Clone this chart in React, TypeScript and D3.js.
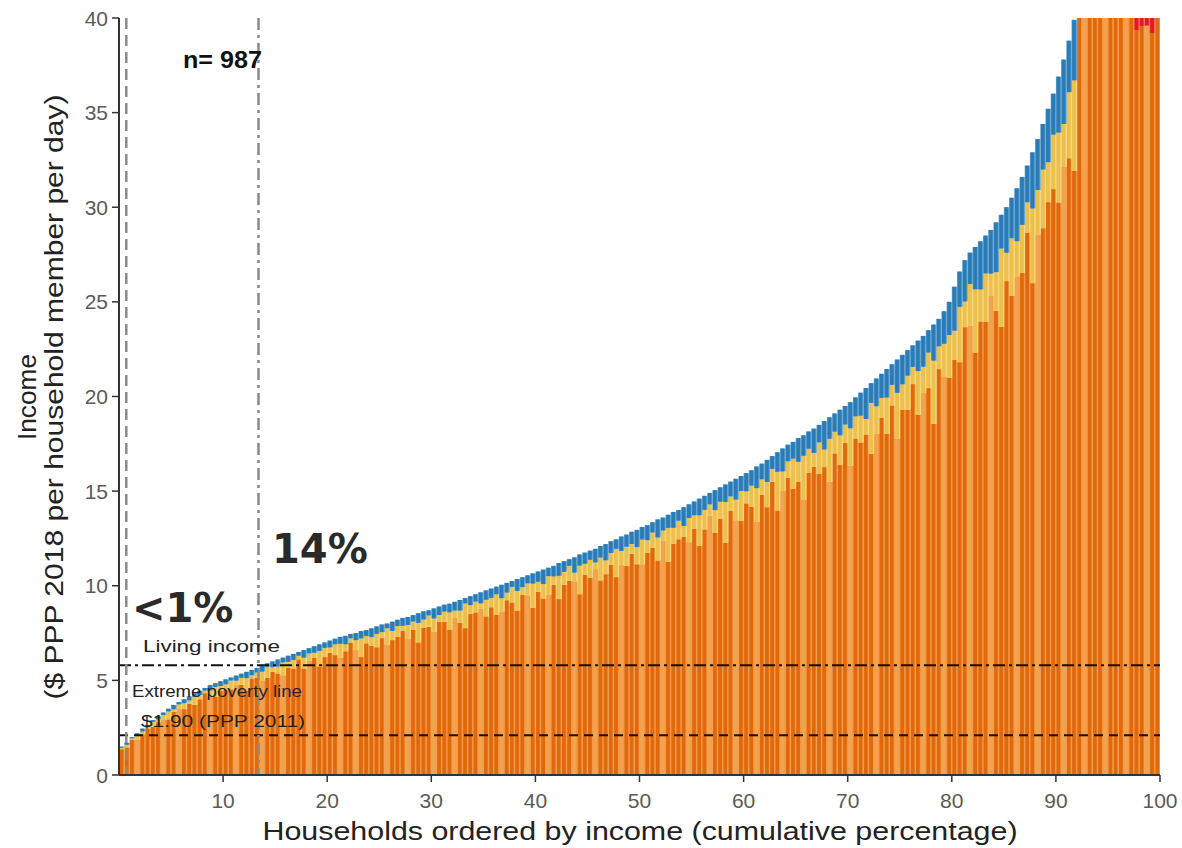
import React from 'react';
import * as d3 from 'd3';

// household income (PPP $ / member / day), households sorted, one bar per 0.5 %
const income = [
  1.5, 1.7, 2.0, 2.2, 2.45, 2.65, 2.9, 3.1, 3.3, 3.5, 3.7, 3.85, 4.0, 4.15, 4.3, 4.45, 4.6, 4.75, 4.85, 4.95,
  5.05, 5.15, 5.25, 5.35, 5.45, 5.55, 5.65, 5.75, 5.9, 6.0, 6.1, 6.2, 6.3, 6.4, 6.5, 6.6, 6.7, 6.8, 6.9, 7.0,
  7.1, 7.2, 7.3, 7.35, 7.45, 7.5, 7.6, 7.65, 7.75, 7.85, 7.95, 8.0, 8.1, 8.2, 8.3, 8.35, 8.45, 8.55, 8.65, 8.7,
  8.8, 8.9, 9.0, 9.05, 9.15, 9.25, 9.35, 9.45, 9.55, 9.65, 9.75, 9.85, 9.95, 10.05, 10.15, 10.25, 10.35, 10.45, 10.55, 10.65,
  10.75, 10.85, 10.95, 11.05, 11.2, 11.3, 11.4, 11.5, 11.65, 11.75, 11.85, 11.95, 12.1, 12.2, 12.35, 12.45, 12.6, 12.7, 12.85, 12.95,
  13.1, 13.2, 13.35, 13.5, 13.6, 13.75, 13.9, 14.0, 14.15, 14.3, 14.45, 14.6, 14.75, 14.9, 15.05, 15.2, 15.35, 15.5, 15.65, 15.8,
  15.95, 16.1, 16.3, 16.45, 16.65, 16.85, 17.05, 17.25, 17.45, 17.6, 17.8, 17.95, 18.15, 18.3, 18.5, 18.7, 18.9, 19.1, 19.3, 19.5,
  19.7, 19.95, 20.2, 20.45, 20.7, 20.95, 21.2, 21.45, 21.7, 21.95, 22.2, 22.45, 22.7, 22.95, 23.2, 23.5, 23.8, 24.1, 24.5, 25.0,
  25.8, 26.6, 27.2, 27.6, 27.9, 28.2, 28.5, 28.8, 29.2, 29.6, 30.0, 30.5, 31.0, 31.6, 32.2, 32.9, 33.6, 34.4, 35.2, 36.0,
  36.9, 37.8, 38.8, 39.9, 42, 44, 46, 48, 50, 53, 56, 60, 64, 69, 75, 82, 92, 110, 140, 200,
];

// share of income (%) from wages / business (blue, top of each bar)
const wagePct = [
  4, 6, 3, 5, 6, 4, 3, 5, 4, 4, 6, 3, 5, 5, 4, 5, 3, 6, 4, 5,
  5, 3, 5, 4, 6, 5, 4, 5, 3, 5, 6, 4, 5, 5, 3, 6, 4, 5, 5, 4,
  5, 4, 5, 6, 3, 5, 5, 4, 6, 5, 5, 3, 6, 4, 5, 5, 4, 6, 5, 3,
  6, 5, 4, 5, 5, 6, 3, 5, 4, 6, 5, 5, 4, 7, 5, 3, 6, 5, 4, 5,
  5, 7, 4, 5, 6, 5, 3, 7, 5, 5, 4, 6, 5, 7, 5, 4, 6, 5, 5, 7,
  5, 6, 4, 7, 5, 5, 6, 4, 7, 5, 5, 6, 5, 4, 7, 5, 6, 5, 7, 5,
  6, 5, 7, 5, 7, 4, 6, 7, 5, 5, 7, 6, 5, 7, 5, 8, 6, 5, 7, 5,
  7, 5, 6, 8, 5, 7, 6, 7, 5, 8, 7, 6, 5, 7, 7, 5, 8, 6, 7, 7,
  9, 7, 8, 6, 8, 9, 7, 8, 9, 6, 8, 7, 9, 8, 6, 9, 8, 7, 8, 6,
  8, 9, 7, 8, 1, 1, 2, 1, 1, 2, 1, 1, 2, 1, 1, 0, 0, 0, 0, 0,
];

// share of income (%) from livestock / other farm (yellow, under the blue)
const livestockPct = [
  5, 8, 4, 10, 6, 3, 9, 5, 7, 12, 4, 6, 8, 4, 10, 5, 3, 7, 11, 5,
  6, 9, 4, 7, 12, 3, 5, 8, 10, 4, 6, 11, 5, 7, 3, 9, 6, 4, 12, 7,
  4, 8, 10, 5, 3, 7, 13, 5, 6, 9, 4, 11, 6, 7, 3, 9, 5, 12, 5, 7,
  8, 4, 6, 10, 4, 7, 14, 5, 6, 3, 9, 5, 11, 7, 4, 8, 10, 4, 6, 12,
  5, 7, 9, 4, 11, 6, 7, 4, 13, 5, 8, 3, 10, 6, 5, 12, 6, 8, 4, 7,
  10, 5, 6, 9, 4, 13, 6, 7, 4, 9, 5, 11, 7, 4, 8, 6, 14, 5, 7, 10,
  4, 7, 11, 5, 8, 4, 12, 6, 5, 9, 6, 13, 7, 4, 9, 5, 12, 6, 8, 5,
  10, 6, 7, 4, 13, 7, 5, 9, 5, 11, 6, 8, 4, 10, 6, 8, 14, 5, 7, 9,
  6, 11, 5, 8, 12, 6, 9, 4, 7, 14, 5, 10, 6, 8, 5, 12, 7, 9, 6, 8,
  10, 6, 9, 12, 2, 3, 1, 2, 1, 3, 1, 2, 1, 2, 1, 0, 0, 0, 0, 0,
];

// remittance share of the five richest bars (red)
const remitShare = [0.52, 0.57, 0.64, 0.72, 0.8];

// bars whose main crop is the second crop (light orange)
const paleBars = [3, 8, 11, 17, 22, 27, 31, 36, 42, 45, 51, 55, 60, 64, 69, 73, 78, 82, 87, 91, 96, 100, 104, 109, 113, 118,
  122, 127, 131, 136, 140, 145, 149, 154, 158, 163, 167, 172, 176, 181, 185, 189, 193, 197];

const yTicks = [0, 5, 10, 15, 20, 25, 30, 35, 40];
const xTicks = [10, 20, 30, 40, 50, 60, 70, 80, 90, 100];

const livingIncome = 5.8;
const povertyLine = 2.1;
const belowPoverty = 0.7;
const belowLiving = 13.4;
const sampleSize = 987;

const keys = ['crop', 'livestock', 'wage', 'remit'];
const colors = { crop: '#e2680c', livestock: '#ecc04a', wage: '#2a7cb8', remit: '#e41a1c' };
const lightColors = { crop: '#f29a48', livestock: '#f4d684', wage: '#6aa6cf', remit: '#f06a5a' };
const paleCrop = '#f3a24e';

const W = 1182;
const H = 848;

export default function App() {
  const x = d3.scaleLinear().domain([0, 100]).range([119, 1160]);
  const y = d3.scaleLinear().domain([0, 40]).range([775, 18]);
  const band = d3.scaleBand<number>().domain(d3.range(income.length)).range([x(0), x(100)]);
  const bw = band.bandwidth();

  const firstRemit = income.length - remitShare.length;
  const rows = income.map((v, i) => {
    const remit = i >= firstRemit ? v * remitShare[i - firstRemit] : 0;
    const wage = (v * wagePct[i]) / 100;
    const livestock = (v * livestockPct[i]) / 100;
    return { i, crop: v - remit - wage - livestock, livestock, wage, remit };
  });
  const series = d3.stack<any>().keys(keys)(rows);
  const pale = new Set(paleBars);

  const lab = { fontFamily: 'Liberation Sans, Arial, sans-serif' };

  return (
    <svg width={W} height={H} style={{ position: 'absolute', left: 0, top: 0, background: '#fff' }}>
      <defs>
        <clipPath id="plot">
          <rect x={x(0)} y={y(40)} width={x(100) - x(0)} height={y(0) - y(40)} />
        </clipPath>
      </defs>

      <g clipPath="url(#plot)">
        {series.map(s =>
          s.map((d, j) => {
            const key = s.key as keyof typeof colors;
            if (d[1] - d[0] <= 0) return null;
            const bx = band(j)!;
            const top = y(d[1]);
            const h = y(d[0]) - top;
            const main = key === 'crop' && pale.has(j) ? paleCrop : colors[key];
            return (
              <g key={key + j}>
                <rect x={bx} y={top} width={bw + 0.4} height={h} fill={lightColors[key]} />
                <rect x={bx + bw * 0.12} y={top} width={bw * 0.72} height={h} fill={main} />
              </g>
            );
          })
        )}
      </g>

      {/* reference lines */}
      <line x1={x(0)} x2={x(100)} y1={y(livingIncome)} y2={y(livingIncome)} stroke="#111" strokeWidth={2} strokeDasharray="12 4 3 4" />
      <line x1={x(0)} x2={x(100)} y1={y(povertyLine)} y2={y(povertyLine)} stroke="#111" strokeWidth={2} strokeDasharray="9 6" />
      <line x1={x(belowPoverty)} x2={x(belowPoverty)} y1={y(40)} y2={y(0)} stroke="#8a8a8a" strokeWidth={2.5} strokeDasharray="11 6" />
      <line x1={x(belowLiving)} x2={x(belowLiving)} y1={y(40)} y2={y(0)} stroke="#8a8a8a" strokeWidth={2.5} strokeDasharray="12 5 3 5" />

      {/* axes */}
      <line x1={x(0)} x2={x(0)} y1={y(40)} y2={y(0)} stroke="#333" strokeWidth={2} />
      <line x1={x(0)} x2={x(100)} y1={y(0)} y2={y(0)} stroke="#333" strokeWidth={2} />
      {yTicks.map(t => (
        <g key={'y' + t}>
          <line x1={x(0) - 7} x2={x(0)} y1={y(t)} y2={y(t)} stroke="#333" strokeWidth={1.5} />
          <text x={108} y={y(t)} dy="0.36em" textAnchor="end" fontSize={21} fill="#5a5a5a" style={lab}>{t}</text>
        </g>
      ))}
      {xTicks.map(t => (
        <g key={'x' + t}>
          <line x1={x(t)} x2={x(t)} y1={y(0)} y2={y(0) + 7} stroke="#333" strokeWidth={1.5} />
          <text x={x(t)} y={808} textAnchor="middle" fontSize={21} fill="#5a5a5a" style={lab}>{t}</text>
        </g>
      ))}

      {/* axis titles */}
      <text x={640} y={840} textAnchor="middle" fontSize={26} fill="#222" style={lab} textLength={755} lengthAdjust="spacingAndGlyphs">
        Households ordered by income (cumulative percentage)
      </text>
      <g transform="translate(36,397) rotate(-90)">
        <text x={0} y={0} textAnchor="middle" fontSize={26} fill="#222" style={lab} textLength={86} lengthAdjust="spacingAndGlyphs">Income</text>
      </g>
      <g transform="translate(63,397) rotate(-90)">
        <text x={0} y={0} textAnchor="middle" fontSize={26} fill="#222" style={lab} textLength={605} lengthAdjust="spacingAndGlyphs">
          ($ PPP 2018 per household member per day)
        </text>
      </g>

      {/* annotations */}
      <text x={183} y={68} fontSize={23} fontWeight={600} fill="#111" style={lab} textLength={79} lengthAdjust="spacingAndGlyphs">n= {sampleSize}</text>
      <text x={272} y={563} fontSize={40} fontWeight="bold" fill="#2a2a2a" style={{ fontFamily: 'DejaVu Sans, Verdana, sans-serif' }}>14%</text>
      <text x={132} y={622} fontSize={40} fontWeight="bold" fill="#2a2a2a" style={{ fontFamily: 'DejaVu Sans, Verdana, sans-serif' }}>&lt;1%</text>
      <text x={143} y={652} fontSize={17} fill="#222" style={lab} textLength={137} lengthAdjust="spacingAndGlyphs">Living income</text>
      <text x={132} y={697} fontSize={17} fill="#222" style={lab} textLength={170} lengthAdjust="spacingAndGlyphs">Extreme poverty line</text>
      <text x={141} y={727} fontSize={17} fill="#222" style={lab} textLength={164} lengthAdjust="spacingAndGlyphs">$1.90 (PPP 2011)</text>
    </svg>
  );
}
